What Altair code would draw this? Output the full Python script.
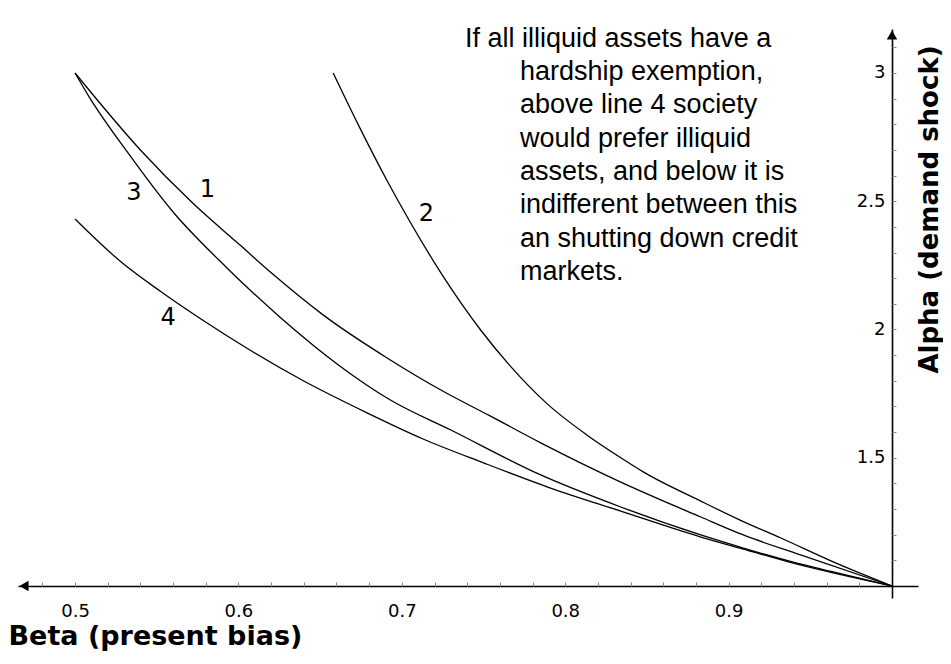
import altair as alt
import pandas as pd

# ---- curve data (beta = present bias, alpha = demand shock) ----
beta_1 = [0.500, 0.540, 0.572, 0.601, 0.621, 0.652, 0.691, 0.725, 0.754, 0.785, 0.834, 0.883, 0.909, 0.944, 1.000]
alpha_1 = [3.000, 2.700, 2.493, 2.329, 2.216, 2.056, 1.889, 1.760, 1.663, 1.558, 1.405, 1.269, 1.199, 1.121, 1.000]

beta_2 = [0.658, 0.674, 0.691, 0.705, 0.725, 0.748, 0.766, 0.789, 0.813, 0.834, 0.848, 0.883, 0.907, 0.932, 0.964, 1.000]
alpha_2 = [3.000, 2.790, 2.580, 2.420, 2.210, 2.000, 1.860, 1.710, 1.590, 1.500, 1.444, 1.331, 1.257, 1.187, 1.094, 1.000]

beta_3 = [0.500, 0.509, 0.532, 0.560, 0.593, 0.626, 0.662, 0.693, 0.730, 0.785, 0.834, 0.883, 0.909, 0.939, 0.964, 1.000]
alpha_3 = [3.000, 2.903, 2.692, 2.458, 2.240, 2.045, 1.858, 1.725, 1.608, 1.433, 1.308, 1.199, 1.148, 1.094, 1.055, 1.000]

beta_4 = [0.500, 0.529, 0.552, 0.578, 0.607, 0.640, 0.679, 0.713, 0.750, 0.791, 0.834, 0.883, 0.909, 0.939, 0.964, 1.000]
alpha_4 = [2.431, 2.259, 2.150, 2.037, 1.920, 1.799, 1.674, 1.573, 1.480, 1.382, 1.292, 1.191, 1.144, 1.090, 1.051, 1.000]

curve_names = ["1", "2", "3", "4"]

# curve number labels
label_text = ["1", "2", "3", "4"]
label_beta = [0.581, 0.715, 0.536, 0.557]
label_alpha = [2.544, 2.450, 2.532, 2.045]

# axis ticks / labels
x_tick_labels = [0.5, 0.6, 0.7, 0.8, 0.9]
y_tick_labels = [1.5, 2, 2.5, 3]
x_minor_ticks = [round(0.48 + 0.02 * k, 2) for k in range(26)]
y_minor_ticks = [round(1.1 + 0.1 * k, 1) for k in range(21)]

X_DOMAIN = [0.4651, 1.0159]
Y_DOMAIN = [0.9532, 3.1715]

note_first = "If all illiquid assets have a"
note_rest = [
    "hardship exemption,",
    "above line 4 society",
    "would prefer illiquid",
    "assets, and below it is",
    "indifferent between this",
    "an shutting down credit",
    "markets.",
]

# ---- build tables ----
rows = []
for name, bs, als in zip(curve_names, [beta_1, beta_2, beta_3, beta_4], [alpha_1, alpha_2, alpha_3, alpha_4]):
    for i, (b, a) in enumerate(zip(bs, als)):
        rows.append({"curve": name, "beta": b, "alpha": a, "i": i})
df = pd.DataFrame(rows)
labels_df = pd.DataFrame({"t": label_text, "beta": label_beta, "alpha": label_alpha})
arrow_x_df = pd.DataFrame({"beta": [X_DOMAIN[0]], "alpha": [1.0]})
arrow_y_df = pd.DataFrame({"beta": [1.0], "alpha": [Y_DOMAIN[1]]})
note1_df = pd.DataFrame({"t": [note_first]})
note2_df = pd.DataFrame({"t": ["\n".join(note_rest)]})

xs = alt.Scale(domain=X_DOMAIN, nice=False, zero=False)
ys = alt.Scale(domain=Y_DOMAIN, nice=False, zero=False)

x_axis_main = alt.Axis(
    orient="bottom", offset=-12, values=x_tick_labels, format=".1f",
    ticks=False, tickSize=0, domain=True, domainColor="black", domainWidth=1.6,
    grid=False, labelFont="DejaVu Sans", labelFontSize=18, labelColor="black",
    labelPadding=16, labelOverlap=False, labelFlush=False, labelBound=False,
    title="Beta (present bias)", titleFont="DejaVu Sans", titleFontWeight="bold",
    titleFontSize=27, titleColor="black", titleX=-10, titleY=50,
    titleAlign="left", titleBaseline="middle",
)
y_axis_main = alt.Axis(
    orient="left", offset=-874, values=y_tick_labels, format="~g",
    ticks=False, tickSize=0, domain=True, domainColor="black", domainWidth=1.6,
    grid=False, labelFont="DejaVu Sans", labelFontSize=18, labelColor="black",
    labelPadding=7, labelOverlap=False, labelFlush=False, labelBound=False,
    title="Alpha (demand shock)", titleFont="DejaVu Sans", titleFontWeight="bold",
    titleFontSize=26, titleColor="black", titleAngle=270, titleX=37, titleY=180,
    titleAlign="center", titleBaseline="middle",
)
x_axis_ticks = alt.Axis(
    orient="top", offset=-557, values=x_minor_ticks, labels=False, domain=False,
    ticks=True, tickSize=4, tickColor="#888888", tickWidth=1, grid=False, title="",
)
y_axis_ticks = alt.Axis(
    orient="right", offset=-26, values=y_minor_ticks, labels=False, domain=False,
    ticks=True, tickSize=4, tickColor="#888888", tickWidth=1, grid=False, title="",
)

lines = alt.Chart(df).mark_line(color="black", strokeWidth=1.3, interpolate="monotone").encode(
    x=alt.X("beta:Q", scale=xs, axis=x_axis_main),
    y=alt.Y("alpha:Q", scale=ys, axis=y_axis_main),
    detail="curve:N",
    order="i:Q",
)

arrow_x = alt.Chart(arrow_x_df).mark_point(
    shape="triangle-left", filled=True, color="black", size=110, opacity=1, xOffset=6
).encode(
    x=alt.X("beta:Q", scale=xs, axis=x_axis_ticks),
    y=alt.Y("alpha:Q", scale=ys, axis=y_axis_ticks),
)

arrow_y = alt.Chart(arrow_y_df).mark_point(
    shape="triangle-up", filled=True, color="black", size=110, opacity=1, yOffset=6
).encode(
    x=alt.X("beta:Q", scale=xs, axis=None),
    y=alt.Y("alpha:Q", scale=ys, axis=None),
)

num_labels = alt.Chart(labels_df).mark_text(
    font="DejaVu Sans", fontSize=24, color="black", align="center", baseline="middle"
).encode(
    x=alt.X("beta:Q", scale=xs, axis=None),
    y=alt.Y("alpha:Q", scale=ys, axis=None),
    text="t:N",
)

note1 = alt.Chart(note1_df).mark_text(
    font="Liberation Sans", fontSize=27, color="black", align="left", baseline="alphabetic"
).encode(x=alt.value(447), y=alt.value(18), text="t:N")

note2 = alt.Chart(note2_df).mark_text(
    font="Liberation Sans", fontSize=27, color="black", align="left", baseline="alphabetic",
    lineBreak="\n", lineHeight=33.3,
).encode(x=alt.value(502), y=alt.value(51), text="t:N")

chart = alt.layer(lines, arrow_x, arrow_y, num_labels, note1, note2).resolve_axis(
    x="independent", y="independent"
).properties(
    width=900, height=569,
    autosize=alt.AutoSizeParams(type="none"),
    padding={"left": 10, "top": 21, "right": 25, "bottom": 60},
).configure_view(stroke=None)

chart.save("out.html", embed_options={"renderer": "svg", "actions": False})
